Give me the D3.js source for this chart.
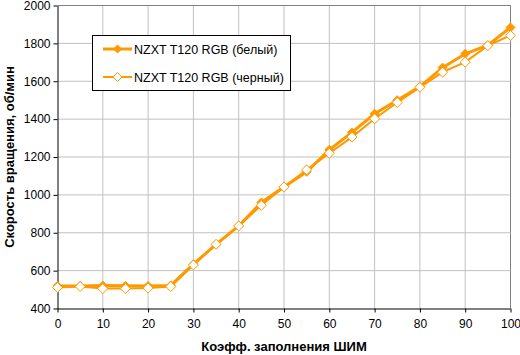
<!DOCTYPE html>
<html><head><meta charset="utf-8">
<script src="https://cdn.jsdelivr.net/npm/d3@7/dist/d3.min.js"></script>
<style>body{margin:0;background:#fff}svg{display:block;font-family:"Liberation Sans",Arial,sans-serif}</style>
</head><body>
<script>
const xValues = [0,5,10,15,20,25,30,35,40,45,50,55,60,65,70,75,80,85,90,95,100];
const seriesWhite = [519,519,521,520,519,522,634,739,836,960,1042,1122,1238,1330,1428,1500,1572,1672,1745,1790,1884];
const seriesBlack = [511,516,505,505,508,516,630,739,836,945,1042,1132,1220,1305,1402,1488,1568,1648,1701,1788,1842];
const seriesNames = ["NZXT T120 RGB (белый)","NZXT T120 RGB (черный)"];
const xTicks = [0,10,20,30,40,50,60,70,80,90,100];
const yTicks = [400,600,800,1000,1200,1400,1600,1800,2000];
const xTitle = "Коэфф. заполнения ШИМ";
const yTitle = "Скорость вращения, об/мин";

const W=520,H=355, L=57.5, R=510.5, T=5.5, B=308.5;
const color="#FF9900";
const svg=d3.select("body").append("svg").attr("width",W).attr("height",H);
const x=d3.scaleLinear().domain([0,100]).range([L,R]);
const y=d3.scaleLinear().domain([400,2000]).range([B,T]);

// grid
svg.append("g").selectAll("line").data(xTicks.slice(1)).join("line")
  .attr("x1",d=>x(d)).attr("x2",d=>x(d)).attr("y1",T).attr("y2",B)
  .attr("stroke",d=>d===100?"#808080":"#c0c0c0").attr("stroke-width",1);
svg.append("g").selectAll("line").data(yTicks.slice(1)).join("line")
  .attr("y1",d=>y(d)).attr("y2",d=>y(d)).attr("x1",L).attr("x2",R)
  .attr("stroke",d=>d===2000?"#808080":"#c0c0c0").attr("stroke-width",1);

// axes
const xa=svg.append("g").attr("transform",`translate(0,${B})`)
  .call(d3.axisBottom(x).tickValues(xTicks).tickSize(4).tickPadding(7).tickSizeOuter(0));
const ya=svg.append("g").attr("transform",`translate(${L},0)`)
  .call(d3.axisLeft(y).tickValues(yTicks).tickSize(4).tickPadding(3).tickSizeOuter(0).tickFormat(d3.format("d")));
[xa,ya].forEach(a=>{a.selectAll("path,line").attr("stroke","#000").attr("stroke-width",1);
  a.selectAll("text").attr("font-size","12px").attr("fill","#000").attr("font-family","'Liberation Sans',Arial,sans-serif");});
xa.select(".domain").attr("d",`M${L},0.5H${R}`);

const line=d3.line().x(d=>x(d[0])).y(d=>y(d[1]));
const dataW=xValues.map((v,i)=>[v,seriesWhite[i]]);
const dataB=xValues.map((v,i)=>[v,seriesBlack[i]]);

const diamond=(cx,cy,r)=>`M${cx},${cy-r}L${cx+r},${cy}L${cx},${cy+r}L${cx-r},${cy}Z`;

svg.append("path").datum(dataW).attr("d",line).attr("fill","none").attr("stroke",color).attr("stroke-width",3);
svg.append("path").datum(dataB).attr("d",line).attr("fill","none").attr("stroke",color).attr("stroke-width",2);
svg.append("g").selectAll("path").data(dataW).join("path")
  .attr("d",d=>diamond(x(d[0]),y(d[1]),4.5)).attr("fill",color).attr("stroke",color);
svg.append("g").selectAll("path").data(dataB).join("path")
  .attr("d",d=>diamond(x(d[0]),y(d[1]),5)).attr("fill","#fff").attr("stroke",color).attr("stroke-width",1);

// legend
const lg=svg.append("g");
lg.append("rect").attr("x",92.5).attr("y",35.5).attr("width",198).attr("height",55).attr("fill","#fff").attr("stroke","#000");
[[0,49],[1,77]].forEach(([i,ly])=>{
  lg.append("line").attr("x1",103).attr("x2",132).attr("y1",ly).attr("y2",ly).attr("stroke",color).attr("stroke-width",i?2:3);
  lg.append("path").attr("d",diamond(117.5,ly,i?4.5:4)).attr("fill",i?"#fff":color).attr("stroke",color);
  lg.append("text").attr("x",134).attr("y",ly+4.5).attr("font-size","12.5px").text(seriesNames[i]);
});

svg.append("text").attr("x",(L+R)/2).attr("y",351).attr("text-anchor","middle")
  .attr("font-size","13px").attr("font-weight","bold").text(xTitle);
svg.append("text").attr("transform",`translate(14,${(T+B)/2}) rotate(-90)`).attr("text-anchor","middle")
  .attr("font-size","13px").attr("font-weight","bold").text(yTitle);
</script>
</body></html>
